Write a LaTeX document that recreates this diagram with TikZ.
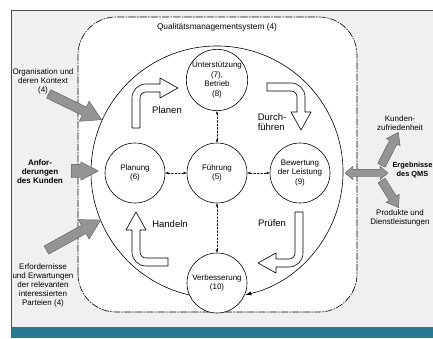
\documentclass[tikz,border=0pt]{standalone}
\usepackage{fontspec}
\setmainfont{Liberation Sans}
\usetikzlibrary{arrows.meta}
\usetikzlibrary{shapes.arrows}
\definecolor{petrol}{RGB}{40,120,146}

\begin{document}
\begin{tikzpicture}[line cap=round,line join=round,>={Latex[length=3pt,width=2.4pt]},x=1pt,y=1pt,
  kreis/.style={circle,draw,fill=white,line width=0.6pt,minimum size=60pt,inner sep=0pt,align=center,font=\fontsize{8}{9.5}\selectfont},
  klein/.style={align=center,font=\fontsize{8}{9}\selectfont},
  kleinfett/.style={align=center,font=\fontsize{8}{9}\selectfont\bfseries},
  phase/.style={align=left,font=\fontsize{9.5}{10.5}\selectfont},
  blockpfeil/.style={draw,fill=white,line width=0.6pt},
  graupfeil/.style={single arrow,draw=black!65,fill=black!42,line width=0.4pt,inner xsep=0pt,minimum width=1pt},
  verbindung/.style={<->,dash pattern=on 2pt off 1.5pt,line width=0.4pt}]
\clip(0,0) rectangle (433,338);
\draw [fill=gray!12,draw=black!70,line width=0.6pt] (11,11) rectangle (445,328);
\fill [petrol] (11,0) rectangle (445,11);
\draw [fill=white,rounded corners=38pt,dash pattern=on 7pt off 1.5pt on 1.2pt off 1.5pt,line width=0.6pt] (78,26) rectangle (357,321);
\node[klein] (titel) at (217,311) {\fontsize{8.3}{9}\selectfont Qualitätsmanagementsystem (4)};
% grosser Kreis
\draw [line width=0.6pt,-{Latex[length=6pt,width=4pt]}] (217,166) ++(257.8:126) arc[start angle=257.8,end angle=-77,radius=126];
% Bloecke
\node[kreis] (unterst) at (217,258) {Unterstützung\\(7),\\Betrieb\\(8)};
\node[kreis] (planung) at (135,165) {Planung\\(6)};
\node[kreis] (fuehrung) at (217,165) {Führung\\(5)};
\node[kreis] (bewertung) at (300,165) {Bewertung\\der Leistung\\(9)};
\node[kreis] (verbess) at (217,55) {Verbesserung\\(10)};
\draw [verbindung] (fuehrung) -- (unterst);
\draw [verbindung] (fuehrung) -- (verbess);
\draw [verbindung] (fuehrung) -- (planung);
\draw [verbindung] (fuehrung) -- (bewertung);
% PDCA-Pfeile
\draw [blockpfeil] (132,210) -- (132,240) arc[start angle=180,end angle=90,radius=14] -- (160,254) -- (160,260) -- (178,250) -- (160,240) -- (160,246) -- (146,246) arc[start angle=90,end angle=180,radius=6] -- (140,210) -- cycle;
\draw [blockpfeil] (267,255) -- (291,255) arc[start angle=90,end angle=0,radius=14] -- (305,226) -- (311,226) -- (301,208) -- (291,226) -- (297,226) -- (297,241) arc[start angle=0,end angle=90,radius=6] -- (267,247) -- cycle;
\draw [blockpfeil] (303,126) -- (303,85) arc[start angle=0,end angle=-90,radius=14] -- (276,71) -- (276,65) -- (258,75) -- (276,85) -- (276,79) -- (289,79) arc[start angle=-90,end angle=0,radius=6] -- (295,126) -- cycle;
\draw [blockpfeil] (168,72) -- (146,72) arc[start angle=-90,end angle=-180,radius=14] -- (132,108) -- (126,108) -- (136,126) -- (146,108) -- (140,108) -- (140,86) arc[start angle=180,end angle=270,radius=6] -- (168,80) -- cycle;
\node[phase] (planen) at (167,228) {Planen};
\node[phase] (durchf) at (272,216) {Durch-\\führen};
\node[phase] (pruefen) at (272,115) {Prüfen};
\node[phase] (handeln) at (170,114) {Handeln};
% Eingaenge links
\node[graupfeil,rotate=-26,minimum height=59pt,inner ysep=4.5pt,single arrow head extend=6.5pt,single arrow tip angle=60] (pfeilkontext) at (71.5,233) {};
\node[graupfeil,minimum height=27pt,inner ysep=6.5pt,single arrow head extend=2.5pt,single arrow tip angle=55] (pfeilkunde) at (78.5,167) {};
\node[graupfeil,rotate=29,minimum height=62pt,inner ysep=4.5pt,single arrow head extend=6.5pt,single arrow tip angle=60] (pfeilparteien) at (70,101) {};
\node[klein] (kontext) at (43,257) {Organisation und\\deren Kontext\\(4)};
\node[kleinfett] (kunde) at (40,166) {Anfor-\\derungen\\des Kunden};
\node[klein] (parteien) at (43,53) {Erfordernisse\\und Erwartungen\\der relevanten\\interessierten\\Parteien (4)};
% Ergebnisse rechts
\node[graupfeil,rotate=63,minimum height=37pt,inner ysep=4pt,single arrow head extend=3.5pt,single arrow tip angle=70] (pfeilzufried) at (388.5,186.5) {};
\node[graupfeil,rotate=-58,minimum height=32pt,inner ysep=4pt,single arrow head extend=3.5pt,single arrow tip angle=70] (pfeilprodukt) at (388.5,146.5) {};
\node[double arrow,draw=black!65,fill=black!42,line width=0.4pt,inner xsep=0pt,inner ysep=3.5pt,double arrow head extend=3pt,double arrow tip angle=80,minimum height=43pt] (pfeilqms) at (366.5,165) {};
\node[klein] (zufried) at (400,215) {Kunden-\\zufriedenheit};
\node[kleinfett,font=\fontsize{7.4}{9}\selectfont\bfseries] (ergebnis) at (412.5,168) {Ergebnisse\\des QMS};
\node[klein] (produkte) at (400,120) {Produkte und\\Dienstleistungen};
\end{tikzpicture}
\end{document}
